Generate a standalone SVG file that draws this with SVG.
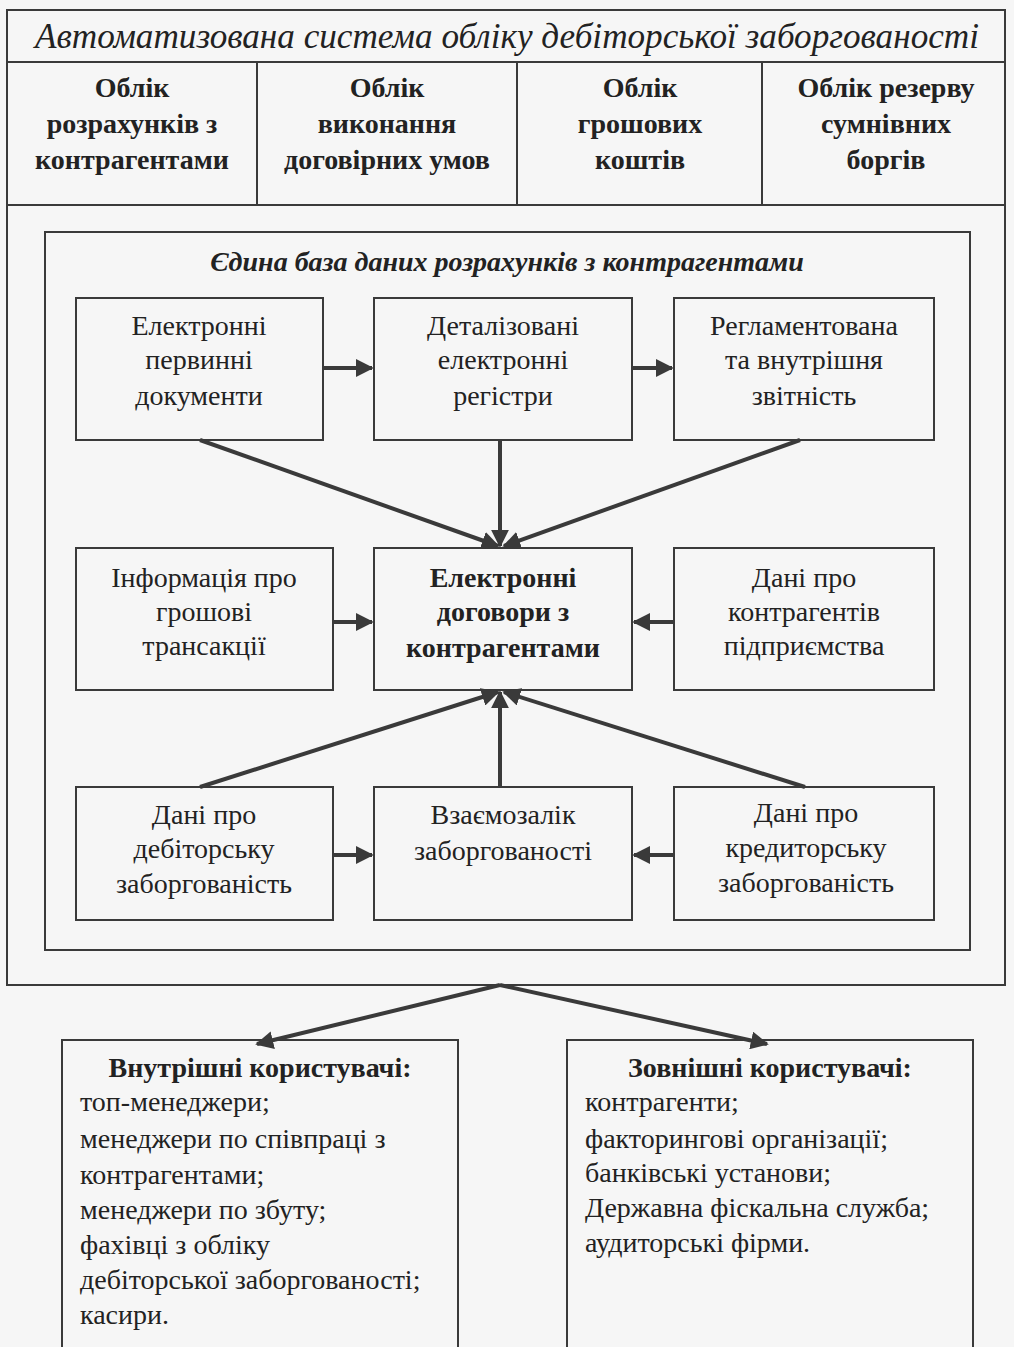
<svg xmlns="http://www.w3.org/2000/svg" width="1014" height="1347" viewBox="0 0 1014 1347">
<defs>
<marker id="ah" viewBox="0 0 10 10" refX="9" refY="5" markerWidth="4.5" markerHeight="4.5" orient="auto" markerUnits="strokeWidth">
<path d="M0,0 L10,5 L0,10 z" fill="#3a3a3a"/>
</marker>
</defs>
<style>
.bx{fill:none;stroke:#3a3a3a;stroke-width:2}
.t{font-family:"Liberation Serif","Times New Roman",serif;font-size:28px;fill:#222;text-anchor:middle}
.b{font-weight:bold}
.i{font-style:italic}
.l{text-anchor:start}
.c{stroke:#3a3a3a;stroke-width:4;fill:none;marker-end:url(#ah)}
</style>
<rect width="1014" height="1347" fill="#f6f6f6"/>
<g id="outer">
<rect class="bx" x="7" y="10" width="998" height="975"/>
<line class="bx" x1="7" y1="62" x2="1005" y2="62"/>
<line class="bx" x1="7" y1="205" x2="1005" y2="205"/>
<line class="bx" x1="257" y1="62" x2="257" y2="205"/>
<line class="bx" x1="517" y1="62" x2="517" y2="205"/>
<line class="bx" x1="762" y1="62" x2="762" y2="205"/>
<text class="t i" x="507" y="48" style="font-size:35px" textLength="944" lengthAdjust="spacingAndGlyphs">Автоматизована система обліку дебіторської заборгованості</text>
</g>
<g id="h1"><text class="t b" x="132" y="97">Облік</text><text class="t b" x="132" y="133">розрахунків з</text><text class="t b" x="132" y="169">контрагентами</text></g>
<g id="h2"><text class="t b" x="387" y="97">Облік</text><text class="t b" x="387" y="133">виконання</text><text class="t b" x="387" y="169">договірних умов</text></g>
<g id="h3"><text class="t b" x="640" y="97">Облік</text><text class="t b" x="640" y="133">грошових</text><text class="t b" x="640" y="169">коштів</text></g>
<g id="h4"><text class="t b" x="886" y="97">Облік резерву</text><text class="t b" x="886" y="133">сумнівних</text><text class="t b" x="886" y="169">боргів</text></g>
<g id="db">
<rect class="bx" x="45" y="232" width="925" height="718"/>
<text class="t b i" x="507" y="271">Єдина база даних розрахунків з контрагентами</text>
</g>
<g id="n1"><rect class="bx" x="76" y="298" width="247" height="142"/><text class="t" x="199" y="335">Електронні</text><text class="t" x="199" y="369">первинні</text><text class="t" x="199" y="405">документи</text></g>
<g id="n2"><rect class="bx" x="374" y="298" width="258" height="142"/><text class="t" x="503" y="335">Деталізовані</text><text class="t" x="503" y="369">електронні</text><text class="t" x="503" y="405">регістри</text></g>
<g id="n3"><rect class="bx" x="674" y="298" width="260" height="142"/><text class="t" x="804" y="335">Регламентована</text><text class="t" x="804" y="369">та внутрішня</text><text class="t" x="804" y="405">звітність</text></g>
<g id="n4"><rect class="bx" x="76" y="548" width="257" height="142"/><text class="t" x="204" y="587">Інформація про</text><text class="t" x="204" y="621">грошові</text><text class="t" x="204" y="655">трансакції</text></g>
<g id="n5"><rect class="bx" x="374" y="548" width="258" height="142"/><text class="t b" x="503" y="587">Електронні</text><text class="t b" x="503" y="621">договори з</text><text class="t b" x="503" y="657">контрагентами</text></g>
<g id="n6"><rect class="bx" x="674" y="548" width="260" height="142"/><text class="t" x="804" y="587">Дані про</text><text class="t" x="804" y="621">контрагентів</text><text class="t" x="804" y="655">підприємства</text></g>
<g id="n7"><rect class="bx" x="76" y="787" width="257" height="133"/><text class="t" x="204" y="824">Дані про</text><text class="t" x="204" y="858">дебіторську</text><text class="t" x="204" y="893">заборгованість</text></g>
<g id="n8"><rect class="bx" x="374" y="787" width="258" height="133"/><text class="t" x="503" y="824">Взаємозалік</text><text class="t" x="503" y="860">заборгованості</text></g>
<g id="n9"><rect class="bx" x="674" y="787" width="260" height="133"/><text class="t" x="806" y="822">Дані про</text><text class="t" x="806" y="857">кредиторську</text><text class="t" x="806" y="892">заборгованість</text></g>
<g id="u1"><rect class="bx" x="62" y="1040" width="396" height="320"/>
<text class="t b" x="260" y="1077">Внутрішні користувачі:</text>
<text class="t l" x="80" y="1111">топ-менеджери;</text>
<text class="t l" x="80" y="1148">менеджери по співпраці з</text>
<text class="t l" x="80" y="1184">контрагентами;</text>
<text class="t l" x="80" y="1219">менеджери по збуту;</text>
<text class="t l" x="80" y="1254">фахівці з обліку</text>
<text class="t l" x="80" y="1289">дебіторської заборгованості;</text>
<text class="t l" x="80" y="1324">касири.</text>
</g>
<g id="u2"><rect class="bx" x="567" y="1040" width="406" height="320"/>
<text class="t b" x="770" y="1077">Зовнішні користувачі:</text>
<text class="t l" x="585" y="1111">контрагенти;</text>
<text class="t l" x="585" y="1148">факторингові організації;</text>
<text class="t l" x="585" y="1182">банківські установи;</text>
<text class="t l" x="585" y="1217">Державна фіскальна служба;</text>
<text class="t l" x="585" y="1252">аудиторські фірми.</text>
</g>
<g id="connectors">
<line class="c" x1="323" y1="368" x2="372" y2="368"/>
<line class="c" x1="632" y1="368" x2="672" y2="368"/>
<line class="c" x1="200" y1="440" x2="498" y2="546"/>
<line class="c" x1="500" y1="440" x2="500" y2="546"/>
<line class="c" x1="800" y1="440" x2="504" y2="546"/>
<line class="c" x1="333" y1="622" x2="372" y2="622"/>
<line class="c" x1="674" y1="622" x2="634" y2="622"/>
<line class="c" x1="200" y1="787" x2="498" y2="692"/>
<line class="c" x1="500" y1="787" x2="500" y2="692"/>
<line class="c" x1="805" y1="787" x2="504" y2="692"/>
<line class="c" x1="333" y1="855" x2="372" y2="855"/>
<line class="c" x1="674" y1="855" x2="634" y2="855"/>
<line class="c" x1="500" y1="985" x2="257" y2="1044"/>
<line class="c" x1="500" y1="985" x2="767" y2="1044"/>
</g>
</svg>
